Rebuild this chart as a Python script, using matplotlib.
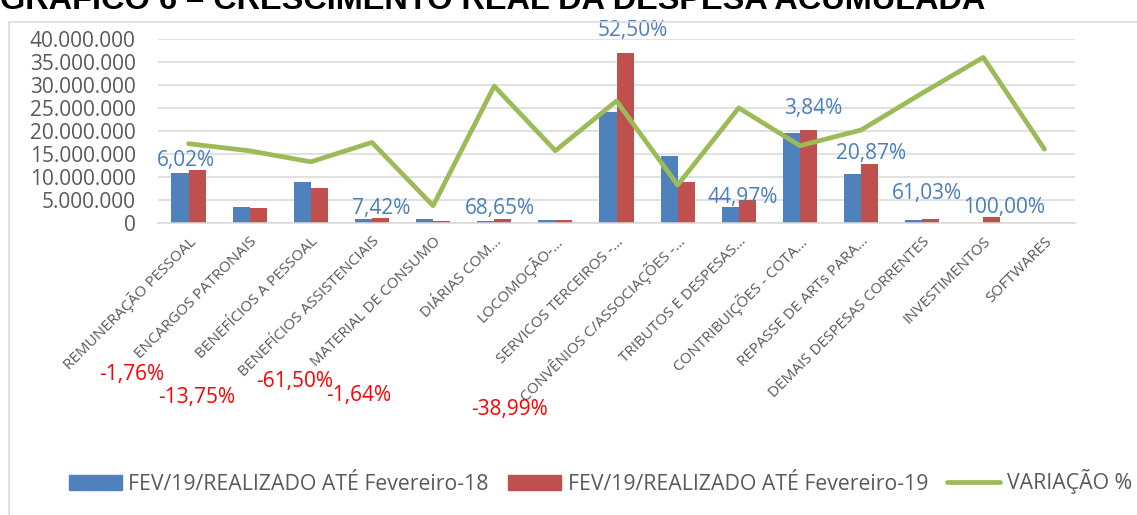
import matplotlib
matplotlib.use("Agg")
import matplotlib.pyplot as plt
import matplotlib.transforms as mtransforms
from matplotlib.patches import Patch
from matplotlib.lines import Line2D
from matplotlib.ticker import FuncFormatter, MultipleLocator
import numpy as np

plt.rcParams['font.family'] = ['Open Sans', 'DejaVu Sans']

categorias = [
    "REMUNERAÇÃO PESSOAL", "ENCARGOS PATRONAIS", "BENEFÍCIOS A PESSOAL",
    "BENEFÍCIOS ASSISTENCIAIS", "MATERIAL DE CONSUMO", "DIÁRIAS COM…",
    "LOCOMOÇÃO-…", "SERVICOS TERCEIROS -…", "CONVÊNIOS C/ASSOCIAÇÕES -…",
    "TRIBUTOS E DESPESAS…", "CONTRIBUIÇÕES - COTA…", "REPASSE DE ARTs PARA…",
    "DEMAIS DESPESAS CORRENTES", "INVESTIMENTOS", "SOFTWARES",
]
# valores em reais
fev18 = [10750000, 3350000, 8870000, 870000, 870000, 440000, 500000, 24200000,
         14470000, 3350000, 19480000, 10540000, 500000, 0, 0]
fev19 = [11400000, 3290000, 7650000, 940000, 335000, 740000, 490000, 36900000,
         8830000, 4860000, 20230000, 12740000, 810000, 1200000, 0]
variacao = [6.02, -1.76, -13.75, 7.42, -61.50, 68.65, -1.64, 52.50, -38.99,
            44.97, 3.84, 20.87, 61.03, 100.00, 0.0]

serie1 = "FEV/19/REALIZADO ATÉ Fevereiro-18"
serie2 = "FEV/19/REALIZADO ATÉ Fevereiro-19"
serie3 = "VARIAÇÃO %"

# deslocamento (px) dos rotulos de percentual, como no original
pos_offsets = {0: (-3, 10), 3: (9, 10), 5: (6, 11), 7: (16, 23), 9: (4, 3),
               10: (13, 21), 11: (10, 11), 12: (5, 25), 13: (21, 10)}
neg_offsets = {1: (-118, -152), 2: (-114, -175), 4: (-138, -159),
               6: (-197, -173), 8: (-168, -187)}

AZUL = '#4F81BD'
VERM = '#C0504D'
VERDE = '#9BBB59'
CINZA = '#595959'
GRADE = '#D9D9D9'

W, H = 1137, 515
fig = plt.figure(figsize=(W / 100, H / 100), dpi=100)
ax = fig.add_axes([158 / W, 1 - 222.7 / H, (1075 - 158) / W, (222.7 - 39) / H])

x = np.arange(len(categorias))
bw = 0.28
ax.bar(x - bw / 2, fev18, bw, color=AZUL, zorder=2)
ax.bar(x + bw / 2, fev19, bw, color=VERM, zorder=2)

ax.set_xlim(-0.5, len(categorias) - 0.5)
ax.set_ylim(0, 40000000)
ax.yaxis.set_major_locator(MultipleLocator(5000000))
ax.yaxis.set_major_formatter(FuncFormatter(lambda v, p: f"{int(v):,}".replace(',', '.')))
ax.grid(axis='y', color=GRADE, lw=1.1, zorder=0)
ax.set_axisbelow(True)
for s in ['top', 'right', 'left']:
    ax.spines[s].set_visible(False)
ax.spines['bottom'].set_color(GRADE)
ax.spines['bottom'].set_linewidth(1.1)
ax.tick_params(axis='y', length=0, pad=16, labelsize=15, labelcolor=CINZA)
ax.tick_params(axis='x', length=0, pad=12, labelsize=11, labelcolor=CINZA)
ax.set_xticks(x)
ax.set_xticklabels(categorias, rotation=45, ha='right', va='center',
                   rotation_mode='anchor')
off = mtransforms.ScaledTranslation(5 / 100, 0, fig.dpi_scale_trans)
for lab in ax.get_xticklabels():
    lab.set_transform(lab.get_transform() + off)

ax2 = ax.twinx()
ax2.set_ylim(-0.8, 1.2)
ax2.axis('off')
ax2.plot(x, np.array(variacao) / 100, color=VERDE, lw=3.4,
         solid_joinstyle='round', solid_capstyle='round', zorder=3)

for i, v in enumerate(variacao):
    txt = f"{v:.2f}".replace('.', ',') + '%'
    if i in pos_offsets:
        ax2.annotate(txt, xy=(x[i], max(fev18[i], fev19[i])), xycoords=ax.transData,
                     xytext=pos_offsets[i], textcoords='offset pixels',
                     ha='center', va='center', fontsize=15, color='#4A7EBB',
                     annotation_clip=False, zorder=5)
    elif i in neg_offsets:
        ax2.annotate(txt, xy=(x[i], 0), xycoords=ax.transData,
                     xytext=neg_offsets[i], textcoords='offset pixels',
                     ha='center', va='center', fontsize=15, color='#FF0000',
                     annotation_clip=False, zorder=5)

handles = [Patch(color=AZUL), Patch(color=VERM),
           Line2D([0], [0], color=VERDE, lw=3.4, solid_capstyle='round')]
fig.legend(handles, [serie1, serie2, serie3], loc='center left',
           bbox_to_anchor=(69 / W, 1 - 482 / H), ncol=3, frameon=False,
           fontsize=15.3, handlelength=2.5, handletextpad=0.3,
           columnspacing=0.9, borderpad=0, borderaxespad=0, labelcolor=CINZA)

# borda da area do grafico
fig.add_artist(Line2D([9 / W, 9 / W], [0, 1 - 22 / H], color=GRADE, lw=1.1))
fig.add_artist(Line2D([9 / W, 1], [1 - 22 / H, 1 - 22 / H], color=GRADE, lw=1.1))

# titulo (no original aparece cortado na borda de cima)
fig.text(0, 1 - 9 / H, "GRÁFICO 6 – CRESCIMENTO REAL DA DESPESA ACUMULADA",
         family=['Liberation Sans', 'DejaVu Sans'], fontsize=23.4,
         fontweight='bold', color='black', va='baseline', ha='left')

fig.savefig('out.png', dpi=100)
